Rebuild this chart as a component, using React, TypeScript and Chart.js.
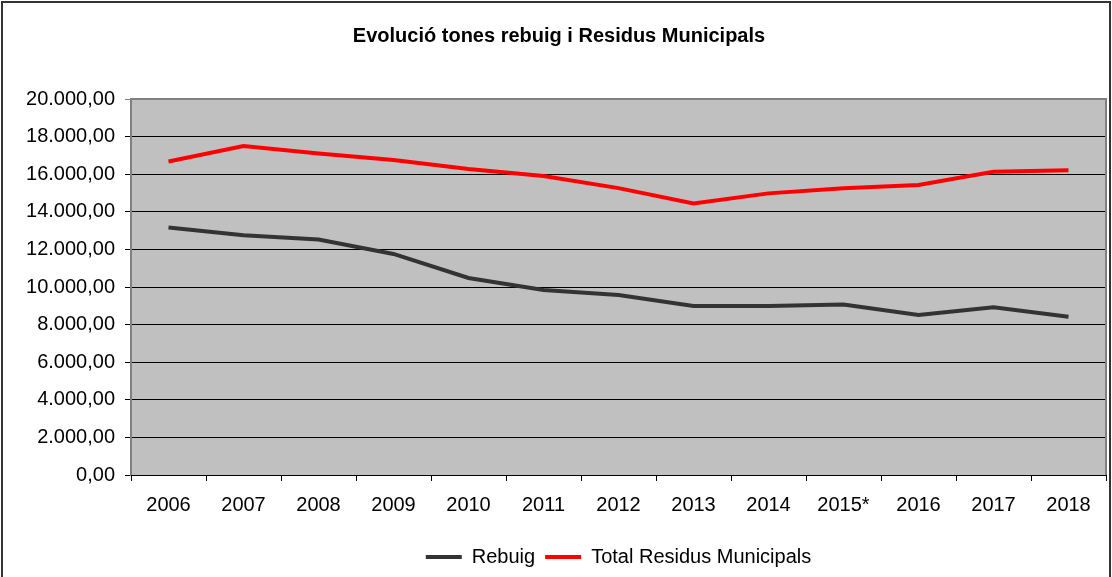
import React, { useEffect, useRef } from "react";
import { Chart, registerables } from "chart.js";

Chart.register(...registerables);

const categories = ["2006", "2007", "2008", "2009", "2010", "2011", "2012", "2013", "2014", "2015*", "2016", "2017", "2018"];
const rebuig = [13160, 12750, 12530, 11760, 10480, 9840, 9570, 8990, 8990, 9070, 8510, 8920, 8420];
const totalResidus = [16680, 17500, 17100, 16760, 16280, 15900, 15260, 14440, 14980, 15250, 15430, 16130, 16210];
const yTicks = [0, 2000, 4000, 6000, 8000, 10000, 12000, 14000, 16000, 18000, 20000];

const FONT = "'Liberation Sans', Arial, sans-serif";

function fmt(v: number): string {
  const neg = v < 0;
  const n = Math.abs(v);
  const int = Math.floor(n).toString().replace(/\B(?=(\d{3})+(?!\d))/g, ".");
  const dec = Math.round((n - Math.floor(n)) * 100).toString().padStart(2, "0");
  return (neg ? "-" : "") + int + "," + dec;
}

const plotPlugin = {
  id: "plotDeco",
  beforeDraw(chart: any) {
    const { ctx, chartArea } = chart;
    ctx.save();
    ctx.fillStyle = "#ffffff";
    ctx.fillRect(0, 0, chart.width, chart.height);
    ctx.fillStyle = "#C0C0C0";
    ctx.fillRect(chartArea.left, chartArea.top, chartArea.right - chartArea.left, chartArea.bottom - chartArea.top);
    ctx.restore();
  },
  beforeDatasetsDraw(chart: any) {
    const { ctx, chartArea } = chart;
    ctx.save();
    ctx.strokeStyle = "#808080";
    ctx.lineWidth = 2;
    ctx.beginPath();
    ctx.moveTo(chartArea.left, chartArea.bottom);
    ctx.lineTo(chartArea.left, chartArea.top);
    ctx.lineTo(chartArea.right, chartArea.top);
    ctx.lineTo(chartArea.right, chartArea.bottom);
    ctx.stroke();
    ctx.strokeStyle = "#000000";
    ctx.lineWidth = 1;
    ctx.beginPath();
    ctx.moveTo(chartArea.left, Math.round(chartArea.bottom) + 0.5);
    ctx.lineTo(chartArea.right, Math.round(chartArea.bottom) + 0.5);
    ctx.stroke();
    ctx.restore();
  },
  afterDraw(chart: any) {
    const { ctx } = chart;
    ctx.save();
    ctx.strokeStyle = "#333333";
    ctx.lineWidth = 2;
    ctx.beginPath();
    ctx.moveTo(2, chart.height + 2);
    ctx.lineTo(2, 2);
    ctx.lineTo(chart.width - 2, 2);
    ctx.lineTo(chart.width - 2, chart.height + 2);
    ctx.stroke();
    ctx.restore();
  },
};

export default function App() {
  const ref = useRef<HTMLCanvasElement | null>(null);

  useEffect(() => {
    document.body.style.margin = "0";
    if (!ref.current) return;
    const chart = new Chart(ref.current, {
      type: "line",
      data: {
        labels: categories,
        datasets: [
          {
            label: "Rebuig",
            data: rebuig,
            borderColor: "#333333",
            backgroundColor: "#333333",
            borderWidth: 4,
            pointRadius: 0,
            tension: 0,
            fill: false,
          },
          {
            label: "Total Residus Municipals",
            data: totalResidus,
            borderColor: "#FF0000",
            backgroundColor: "#FF0000",
            borderWidth: 4,
            pointRadius: 0,
            tension: 0,
            fill: false,
          },
        ],
      },
      options: {
        responsive: false,
        animation: false,
        layout: { padding: { left: 12, right: 6, top: 0, bottom: 0 } },
        plugins: {
          title: {
            display: true,
            text: "Evolució tones rebuig i Residus Municipals",
            color: "#000000",
            font: { family: FONT, size: 20, weight: "bold" },
            padding: { top: 24, bottom: 51 },
          },
          legend: {
            display: true,
            position: "bottom",
            fullSize: false,
            labels: {
              color: "#000000",
              font: { family: FONT, size: 20 },
              boxWidth: 36,
              boxHeight: 4,
              padding: 10,
              generateLabels(c: any) {
                return c.data.datasets.map((ds: any, i: number) => ({
                  text: ds.label,
                  fillStyle: ds.borderColor,
                  strokeStyle: ds.borderColor,
                  lineWidth: 0,
                  hidden: false,
                  datasetIndex: i,
                  fontColor: "#000000",
                }));
              },
            },
          },
          tooltip: { enabled: false },
        },
        scales: {
          x: {
            type: "category",
            offset: true,
            afterFit(s: any) {
              s.height = 62;
            },
            grid: {
              offset: true,
              drawOnChartArea: false,
              drawTicks: true,
              tickLength: 6,
              color: "#000000",
            },
            border: { display: true, color: "#000000", width: 1 },
            ticks: {
              color: "#000000",
              font: { family: FONT, size: 20 },
              padding: 12,
              maxRotation: 0,
              autoSkip: false,
            },
          },
          y: {
            min: 0,
            max: 20000,
            afterFit(s: any) {
              s.width = 119;
            },
            afterBuildTicks(s: any) {
              s.ticks = yTicks.map((v) => ({ value: v }));
            },
            grid: {
              color: (c: any) => (c.tick && c.tick.value === 20000 ? "#808080" : "#000000"),
              lineWidth: 1,
              tickLength: 6,
            },
            border: { display: true, color: "#808080", width: 2 },
            ticks: {
              color: "#000000",
              font: { family: FONT, size: 20 },
              padding: 10,
              callback: (v: any) => fmt(Number(v)),
            },
          },
        },
      },
      plugins: [plotPlugin],
    });
    return () => chart.destroy();
  }, []);

  return (
    <div style={{ width: 1112, height: 577 }}>
      <canvas ref={ref} width={1112} height={577} style={{ display: "block" }} />
    </div>
  );
}
